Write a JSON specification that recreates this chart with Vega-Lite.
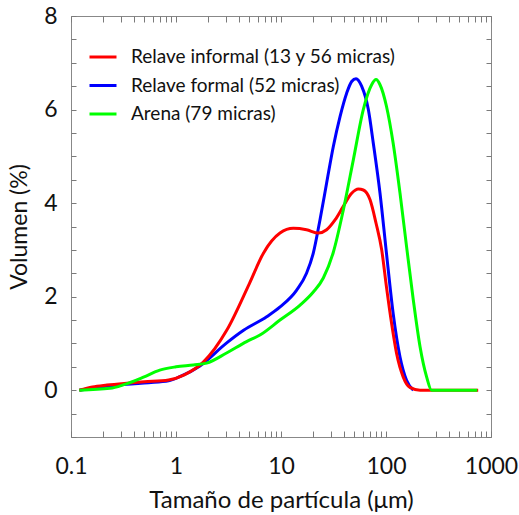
{
  "$schema": "https://vega.github.io/schema/vega-lite/v6.json",
  "width": 420,
  "height": 421,
  "autosize": "none",
  "padding": {"left": 71, "top": 16, "right": 28, "bottom": 78},
  "background": "white",
  "config": {
    "view": {"stroke": "#888888", "strokeWidth": 1},
    "font": "Lato",
    "axis": {"domain": false, "grid": false, "ticks": true, "tickColor": "#7a7a7a", "tickWidth": 1, "labelColor": "#111111", "titleColor": "#111111", "labelFont": "Lato", "titleFont": "Lato", "titleFontWeight": "normal"}
  },
  "data": {
    "values": [
      {"s": "Relave formal (52 micras)", "x": 0.12, "y": 0},
      {"s": "Relave formal (52 micras)", "x": 0.19, "y": 0.07},
      {"s": "Relave formal (52 micras)", "x": 0.34, "y": 0.13},
      {"s": "Relave formal (52 micras)", "x": 0.55, "y": 0.16},
      {"s": "Relave formal (52 micras)", "x": 0.85, "y": 0.2},
      {"s": "Relave formal (52 micras)", "x": 1.09, "y": 0.29},
      {"s": "Relave formal (52 micras)", "x": 1.69, "y": 0.52},
      {"s": "Relave formal (52 micras)", "x": 3.0, "y": 1.0},
      {"s": "Relave formal (52 micras)", "x": 4.4, "y": 1.28},
      {"s": "Relave formal (52 micras)", "x": 7.3, "y": 1.57},
      {"s": "Relave formal (52 micras)", "x": 9.8, "y": 1.78},
      {"s": "Relave formal (52 micras)", "x": 14.1, "y": 2.14},
      {"s": "Relave formal (52 micras)", "x": 17.5, "y": 2.5},
      {"s": "Relave formal (52 micras)", "x": 20.3, "y": 2.93},
      {"s": "Relave formal (52 micras)", "x": 23.5, "y": 3.64},
      {"s": "Relave formal (52 micras)", "x": 27.2, "y": 4.43},
      {"s": "Relave formal (52 micras)", "x": 31.5, "y": 5.21},
      {"s": "Relave formal (52 micras)", "x": 36.5, "y": 5.85},
      {"s": "Relave formal (52 micras)", "x": 42.2, "y": 6.35},
      {"s": "Relave formal (52 micras)", "x": 47.1, "y": 6.6},
      {"s": "Relave formal (52 micras)", "x": 51.8, "y": 6.66},
      {"s": "Relave formal (52 micras)", "x": 58.6, "y": 6.5},
      {"s": "Relave formal (52 micras)", "x": 67.9, "y": 6.0},
      {"s": "Relave formal (52 micras)", "x": 75.7, "y": 5.28},
      {"s": "Relave formal (52 micras)", "x": 87.7, "y": 4.21},
      {"s": "Relave formal (52 micras)", "x": 101, "y": 2.93},
      {"s": "Relave formal (52 micras)", "x": 117, "y": 1.64},
      {"s": "Relave formal (52 micras)", "x": 136, "y": 0.71},
      {"s": "Relave formal (52 micras)", "x": 157, "y": 0.21},
      {"s": "Relave formal (52 micras)", "x": 182, "y": 0},
      {"s": "Relave informal (13 y 56 micras)", "x": 0.12, "y": 0},
      {"s": "Relave informal (13 y 56 micras)", "x": 0.16, "y": 0.07},
      {"s": "Relave informal (13 y 56 micras)", "x": 0.22, "y": 0.11},
      {"s": "Relave informal (13 y 56 micras)", "x": 0.34, "y": 0.15},
      {"s": "Relave informal (13 y 56 micras)", "x": 0.5, "y": 0.18},
      {"s": "Relave informal (13 y 56 micras)", "x": 0.85, "y": 0.22},
      {"s": "Relave informal (13 y 56 micras)", "x": 1.2, "y": 0.33},
      {"s": "Relave informal (13 y 56 micras)", "x": 1.82, "y": 0.6},
      {"s": "Relave informal (13 y 56 micras)", "x": 3.04, "y": 1.28},
      {"s": "Relave informal (13 y 56 micras)", "x": 5.0, "y": 2.28},
      {"s": "Relave informal (13 y 56 micras)", "x": 6.8, "y": 2.93},
      {"s": "Relave informal (13 y 56 micras)", "x": 9.78, "y": 3.36},
      {"s": "Relave informal (13 y 56 micras)", "x": 13.1, "y": 3.46},
      {"s": "Relave informal (13 y 56 micras)", "x": 17.5, "y": 3.43},
      {"s": "Relave informal (13 y 56 micras)", "x": 22.7, "y": 3.36},
      {"s": "Relave informal (13 y 56 micras)", "x": 27.2, "y": 3.43},
      {"s": "Relave informal (13 y 56 micras)", "x": 32.7, "y": 3.64},
      {"s": "Relave informal (13 y 56 micras)", "x": 39.2, "y": 3.93},
      {"s": "Relave informal (13 y 56 micras)", "x": 47.1, "y": 4.21},
      {"s": "Relave informal (13 y 56 micras)", "x": 54.6, "y": 4.3},
      {"s": "Relave informal (13 y 56 micras)", "x": 60.8, "y": 4.28},
      {"s": "Relave informal (13 y 56 micras)", "x": 70.5, "y": 4.07},
      {"s": "Relave informal (13 y 56 micras)", "x": 80.4, "y": 3.57},
      {"s": "Relave informal (13 y 56 micras)", "x": 91, "y": 3.0},
      {"s": "Relave informal (13 y 56 micras)", "x": 101, "y": 2.21},
      {"s": "Relave informal (13 y 56 micras)", "x": 113, "y": 1.43},
      {"s": "Relave informal (13 y 56 micras)", "x": 126, "y": 0.79},
      {"s": "Relave informal (13 y 56 micras)", "x": 146, "y": 0.28},
      {"s": "Relave informal (13 y 56 micras)", "x": 169, "y": 0.06},
      {"s": "Relave informal (13 y 56 micras)", "x": 211, "y": 0},
      {"s": "Relave informal (13 y 56 micras)", "x": 755, "y": 0},
      {"s": "Arena (79 micras)", "x": 0.12, "y": 0},
      {"s": "Arena (79 micras)", "x": 0.235, "y": 0.04},
      {"s": "Arena (79 micras)", "x": 0.32, "y": 0.12},
      {"s": "Arena (79 micras)", "x": 0.49, "y": 0.28},
      {"s": "Arena (79 micras)", "x": 0.7, "y": 0.43},
      {"s": "Arena (79 micras)", "x": 1.0, "y": 0.5},
      {"s": "Arena (79 micras)", "x": 1.46, "y": 0.54},
      {"s": "Arena (79 micras)", "x": 1.96, "y": 0.58},
      {"s": "Arena (79 micras)", "x": 3.0, "y": 0.79},
      {"s": "Arena (79 micras)", "x": 4.7, "y": 1.04},
      {"s": "Arena (79 micras)", "x": 6.3, "y": 1.18},
      {"s": "Arena (79 micras)", "x": 9.78, "y": 1.5},
      {"s": "Arena (79 micras)", "x": 15.2, "y": 1.82},
      {"s": "Arena (79 micras)", "x": 20.3, "y": 2.1},
      {"s": "Arena (79 micras)", "x": 25.3, "y": 2.4},
      {"s": "Arena (79 micras)", "x": 31.5, "y": 2.95},
      {"s": "Arena (79 micras)", "x": 39.2, "y": 3.85},
      {"s": "Arena (79 micras)", "x": 48.9, "y": 4.93},
      {"s": "Arena (79 micras)", "x": 60.8, "y": 6.0},
      {"s": "Arena (79 micras)", "x": 73, "y": 6.53},
      {"s": "Arena (79 micras)", "x": 80.4, "y": 6.64},
      {"s": "Arena (79 micras)", "x": 87.7, "y": 6.53},
      {"s": "Arena (79 micras)", "x": 101, "y": 6.07},
      {"s": "Arena (79 micras)", "x": 117, "y": 5.28},
      {"s": "Arena (79 micras)", "x": 136, "y": 4.21},
      {"s": "Arena (79 micras)", "x": 157, "y": 3.07},
      {"s": "Arena (79 micras)", "x": 182, "y": 1.93},
      {"s": "Arena (79 micras)", "x": 211, "y": 0.93},
      {"s": "Arena (79 micras)", "x": 244, "y": 0.28},
      {"s": "Arena (79 micras)", "x": 272, "y": 0},
      {"s": "Arena (79 micras)", "x": 740, "y": 0}
    ]
  },
  "layer": [
    {
      "mark": {"type": "line", "strokeWidth": 3, "interpolate": "monotone"},
      "encoding": {
        "x": {
          "field": "x", "type": "quantitative",
          "scale": {"type": "log", "domain": [0.1, 1000], "nice": false},
          "axis": {
            "orient": "bottom",
            "title": "Tamaño de partícula (μm)",
            "titleFontSize": 24, "titlePadding": 10,
            "values": [0.1,0.2,0.3,0.4,0.5,0.6,0.7,0.8,0.9,1,2,3,4,5,6,7,8,9,10,20,30,40,50,60,70,80,90,100,200,300,400,500,600,700,800,900,1000],
            "labelExpr": "abs(log(datum.value)/LN10 - round(log(datum.value)/LN10)) < 0.000001 ? format(datum.value, '~g') : ''",
            "labelFontSize": 23, "labelPadding": 24, "labelFlush": false, "labelOverlap": false,
            "tickSize": -6
          }
        },
        "y": {
          "field": "y", "type": "quantitative",
          "scale": {"domain": [-1, 8], "nice": false, "zero": false},
          "axis": {
            "orient": "left",
            "title": "Volumen (%)",
            "titleFontSize": 23, "titlePadding": 12,
            "values": [-1,-0.5,0,0.5,1,1.5,2,2.5,3,3.5,4,4.5,5,5.5,6,6.5,7,7.5,8],
            "labelExpr": "datum.value >= 0 && datum.value % 2 == 0 ? format(datum.value, 'd') : ''",
            "labelFontSize": 23, "labelPadding": 19, "labelFlush": false, "labelOverlap": false,
            "tickSize": -5
          }
        },
        "color": {
          "field": "s", "type": "nominal",
          "scale": {"domain": ["Relave informal (13 y 56 micras)", "Relave formal (52 micras)", "Arena (79 micras)"], "range": ["#ff0000", "#0000ff", "#00ff00"]},
          "legend": {
            "title": null, "orient": "none", "legendX": 17, "legendY": 26,
            "symbolType": "stroke", "symbolSize": 729, "symbolStrokeWidth": 3,
            "labelFontSize": 19, "labelFont": "Lato", "labelColor": "#111111", "labelOffset": 13, "rowPadding": 3.5, "padding": 0, "labelLimit": 400
          }
        }
      }
    },
    {
      "mark": {"type": "point", "opacity": 0},
      "encoding": {
        "x": {
          "field": "x", "type": "quantitative",
          "scale": {"type": "log", "domain": [0.1, 1000], "nice": false},
          "axis": {
            "orient": "top", "title": null, "labels": false,
            "values": [0.1,0.2,0.3,0.4,0.5,0.6,0.7,0.8,0.9,1,2,3,4,5,6,7,8,9,10,20,30,40,50,60,70,80,90,100,200,300,400,500,600,700,800,900,1000],
            "tickSize": -6
          }
        },
        "y": {
          "field": "y", "type": "quantitative",
          "scale": {"domain": [-1, 8], "nice": false, "zero": false},
          "axis": {
            "orient": "right", "title": null, "labels": false,
            "values": [-1,-0.5,0,0.5,1,1.5,2,2.5,3,3.5,4,4.5,5,5.5,6,6.5,7,7.5,8],
            "tickSize": -5
          }
        }
      }
    }
  ],
  "resolve": {"scale": {"x": "independent", "y": "independent"}, "axis": {"x": "independent", "y": "independent"}}
}
